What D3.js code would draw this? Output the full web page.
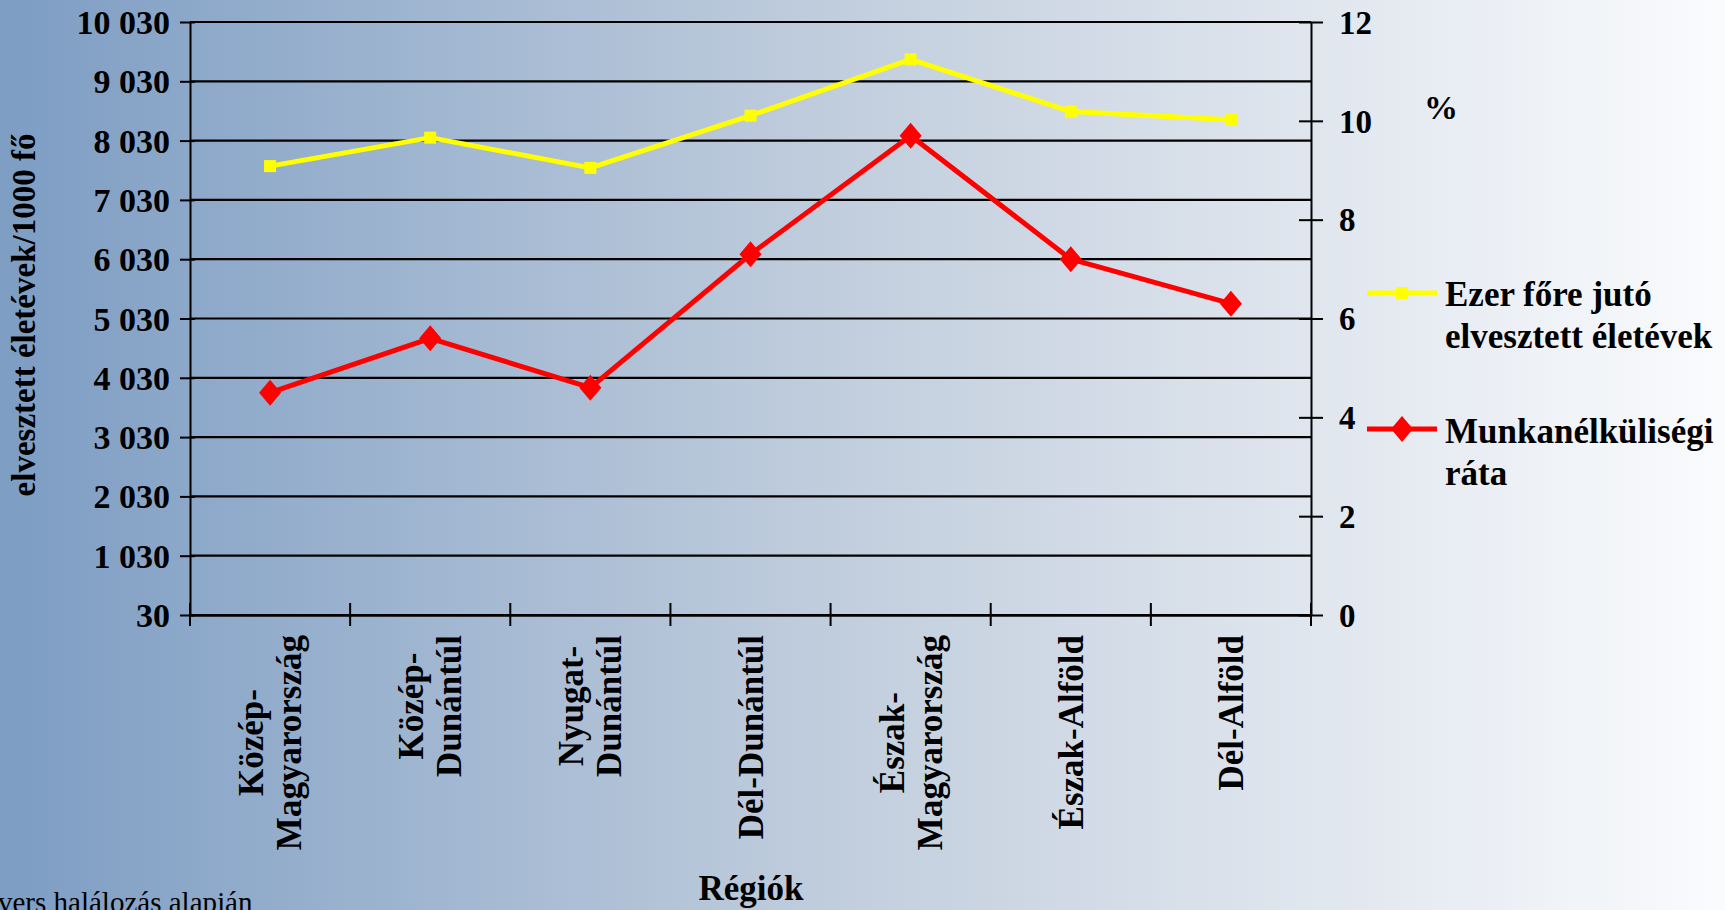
<!DOCTYPE html>
<html>
<head>
<meta charset="utf-8">
<script src="https://cdn.jsdelivr.net/npm/d3@7"></script>
<style>
  html, body { margin: 0; padding: 0; overflow: hidden; }
  svg { display: block; font-family: "Liberation Serif", "Times New Roman", serif; }
</style>
</head>
<body>
<svg id="chart" width="1725" height="910"></svg>
<script>
// Regions (multi-line labels as drawn under the axis)
const regions = ["Közép-Magyarország", "Közép-Dunántúl", "Nyugat-Dunántúl", "Dél-Dunántúl",
                 "Észak-Magyarország", "Észak-Alföld", "Dél-Alföld"];
const regionLines = [["Közép-", "Magyarország"], ["Közép-", "Dunántúl"], ["Nyugat-", "Dunántúl"],
                     ["Dél-Dunántúl"], ["Észak-", "Magyarország"], ["Észak-Alföld"], ["Dél-Alföld"]];

// Lost life years per 1000 inhabitants (left axis)
const lostYears = [7600, 8080, 7570, 8450, 9400, 8520, 8380];
// Unemployment rate, % (right axis)
const unemployment = [4.5, 5.6, 4.6, 7.3, 9.7, 7.2, 6.3];

const leftTicks = [30, 1030, 2030, 3030, 4030, 5030, 6030, 7030, 8030, 9030, 10030];
const rightTicks = [0, 2, 4, 6, 8, 10, 12];

const seriesNames = [["Ezer főre jutó", "elvesztett életévek"], ["Munkanélküliségi", "ráta"]];

const W = 1725, H = 910;
const plot = { left: 190, right: 1311, top: 22, bottom: 615 };

const svg = d3.select("#chart");

// Background: horizontal blue-to-white gradient
const defs = svg.append("defs");
const grad = defs.append("linearGradient").attr("id", "bg").attr("x1", 0).attr("x2", 1).attr("y1", 0).attr("y2", 0);
grad.append("stop").attr("offset", "0%").attr("stop-color", "#7d9dc3");
grad.append("stop").attr("offset", "50%").attr("stop-color", "#c3cfde");
grad.append("stop").attr("offset", "100%").attr("stop-color", "#fafbfd");
svg.append("rect").attr("width", W).attr("height", H).attr("fill", "url(#bg)");

const x = d3.scaleBand().domain(regions).range([plot.left, plot.right]).padding(0);
const yL = d3.scaleLinear().domain([30, 10030]).range([plot.bottom, plot.top]);
const yR = d3.scaleLinear().domain([0, 12]).range([plot.bottom, plot.top]);

const huLocale = d3.formatLocale({ decimal: ",", thousands: " ", grouping: [3], currency: ["", " Ft"] });
const fmtL = huLocale.format(",d");

// Horizontal gridlines
svg.append("g").selectAll("line").data(leftTicks).join("line")
  .attr("x1", plot.left).attr("x2", plot.right)
  .attr("y1", d => yL(d)).attr("y2", d => yL(d))
  .attr("stroke", "#000").attr("stroke-width", 2.2);

// Left axis
const gL = svg.append("g").attr("transform", `translate(${plot.left},0)`)
  .call(d3.axisLeft(yL).tickValues(leftTicks).tickFormat(fmtL).tickSizeInner(10).tickSizeOuter(0).tickPadding(10));
gL.select(".domain").attr("stroke", "#000").attr("stroke-width", 2);
gL.selectAll(".tick line").attr("stroke", "#000").attr("stroke-width", 2).attr("x2", -10).attr("x1", 5);
gL.selectAll(".tick text").attr("font-family", "Liberation Serif").attr("font-weight", "bold")
  .attr("font-size", 34).attr("fill", "#000").attr("dy", "0.34em");

// Right axis
const gR = svg.append("g").attr("transform", `translate(${plot.right},0)`)
  .call(d3.axisRight(yR).tickValues(rightTicks).tickFormat(d3.format("d")).tickSizeInner(12).tickSizeOuter(0).tickPadding(16));
gR.select(".domain").attr("stroke", "#000").attr("stroke-width", 2);
gR.selectAll(".tick line").attr("stroke", "#000").attr("stroke-width", 2).attr("x1", -12).attr("x2", 12);
gR.selectAll(".tick text").attr("font-family", "Liberation Serif").attr("font-weight", "bold")
  .attr("font-size", 33).attr("fill", "#000").attr("dy", "0.34em");

// Bottom axis with ticks on category boundaries
const gB = svg.append("g").attr("transform", `translate(0,${plot.bottom})`)
  .call(d3.axisBottom(x).tickSize(0).tickFormat(""));
gB.select(".domain").attr("stroke", "#000").attr("stroke-width", 2.5);
gB.selectAll(".tick").remove();
const boundaries = regions.map(r => x(r)).concat([plot.right]);
gB.selectAll("line.bd").data(boundaries).join("line").attr("class", "bd")
  .attr("x1", d => d).attr("x2", d => d).attr("y1", -12).attr("y2", 11)
  .attr("stroke", "#000").attr("stroke-width", 2);

// Rotated category labels
const labelTop = 635, lineGap = 38;
regions.forEach((r, i) => {
  const cx = x(r) + x.bandwidth() / 2;
  const lines = regionLines[i];
  const g = svg.append("g");
  const texts = lines.map((ln, j) => g.append("text").text(ln)
    .attr("font-weight", "bold").attr("font-size", 35).attr("fill", "#000")
    .attr("text-anchor", "middle"));
  const maxLen = d3.max(texts, t => t.node().getComputedTextLength());
  const cy = labelTop + maxLen / 2;
  texts.forEach((t, j) => {
    const lx = cx + (j - (lines.length - 1) / 2) * lineGap;
    t.attr("transform", `translate(${lx + 12},${cy}) rotate(-90)`);
  });
});

// Axis titles
svg.append("text").text("Régiók").attr("x", 751).attr("y", 900)
  .attr("text-anchor", "middle").attr("font-weight", "bold").attr("font-size", 35).attr("fill", "#000");
svg.append("text").text("elvesztett életévek/1000 fő")
  .attr("transform", "translate(35,315) rotate(-90)")
  .attr("text-anchor", "middle").attr("font-weight", "bold").attr("font-size", 33).attr("fill", "#000");
svg.append("text").text("%").attr("x", 1441).attr("y", 119)
  .attr("text-anchor", "middle").attr("font-weight", "bold").attr("font-size", 34).attr("fill", "#000");

// Source note at the bottom-left edge
svg.append("text").text("vers halálozás alapján").attr("x", -2).attr("y", 912)
  .attr("font-size", 29).attr("fill", "#000");

// Series lines
const lineL = d3.line().x((d, i) => x(regions[i]) + x.bandwidth() / 2).y(d => yL(d));
const lineR = d3.line().x((d, i) => x(regions[i]) + x.bandwidth() / 2).y(d => yR(d));

svg.append("path").datum(lostYears).attr("d", lineL)
  .attr("fill", "none").attr("stroke", "#ffff00").attr("stroke-width", 5).attr("stroke-linejoin", "round");
svg.append("path").datum(unemployment).attr("d", lineR)
  .attr("fill", "none").attr("stroke", "#ff0000").attr("stroke-width", 5).attr("stroke-linejoin", "round");

const square = 12;
const diamond = (cx, cy) => `M${cx},${cy - 13}L${cx + 11},${cy}L${cx},${cy + 13}L${cx - 11},${cy}Z`;

svg.append("g").selectAll("rect").data(lostYears).join("rect")
  .attr("x", (d, i) => x(regions[i]) + x.bandwidth() / 2 - square / 2)
  .attr("y", d => yL(d) - square / 2)
  .attr("width", square).attr("height", square).attr("fill", "#ffff00");
svg.append("g").selectAll("path").data(unemployment).join("path")
  .attr("d", (d, i) => diamond(x(regions[i]) + x.bandwidth() / 2, yR(d)))
  .attr("fill", "#ff0000");

// Legend
const legend = svg.append("g");
const legendRows = [
  { y: 293, color: "#ffff00", marker: "square", textY: [306, 348] },
  { y: 429, color: "#ff0000", marker: "diamond", textY: [443, 485] }
];
legendRows.forEach((row, i) => {
  legend.append("line").attr("x1", 1367).attr("x2", 1437).attr("y1", row.y).attr("y2", row.y)
    .attr("stroke", row.color).attr("stroke-width", 5);
  if (row.marker === "square") {
    legend.append("rect").attr("x", 1402 - square / 2).attr("y", row.y - square / 2)
      .attr("width", square).attr("height", square).attr("fill", row.color);
  } else {
    legend.append("path").attr("d", diamond(1402, row.y)).attr("fill", row.color);
  }
  seriesNames[i].forEach((ln, j) => {
    legend.append("text").text(ln).attr("x", 1445).attr("y", row.textY[j])
      .attr("font-weight", "bold").attr("font-size", 35).attr("fill", "#000");
  });
});
</script>
</body>
</html>
